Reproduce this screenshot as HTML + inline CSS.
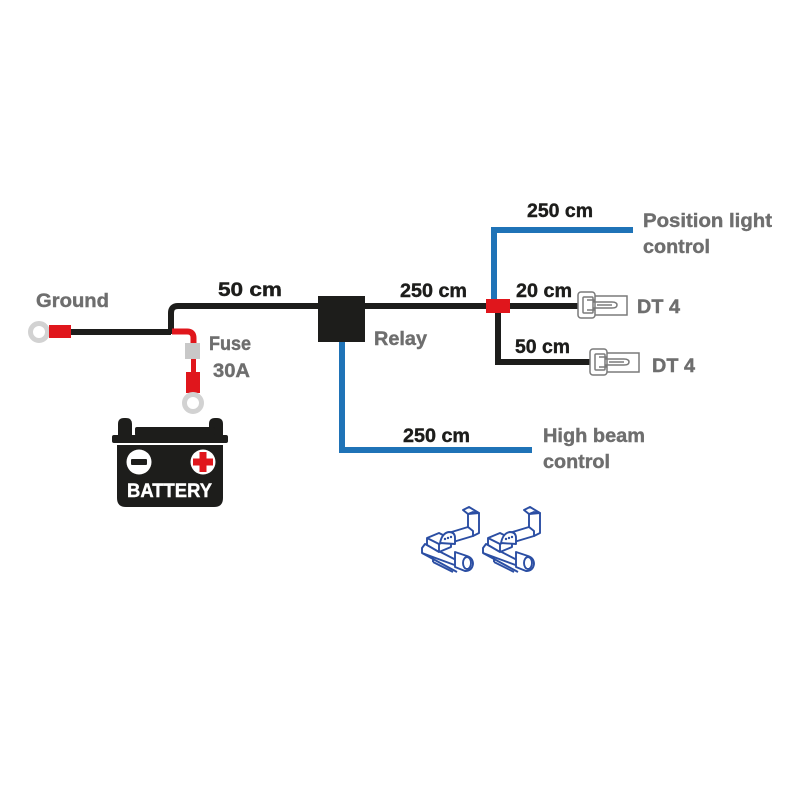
<!DOCTYPE html>
<html><head><meta charset="utf-8"><style>
html,body{margin:0;padding:0;background:#fff;}
svg{display:block;}
text{font-family:"Liberation Sans",sans-serif;font-weight:bold;font-size:19px;stroke-width:0.4;}
.g{fill:#6e6e6e;stroke:#6e6e6e;}
.k{fill:#1d1d1b;stroke:#1d1d1b;}
</style></head><body>
<svg width="800" height="800" viewBox="0 0 800 800" xmlns="http://www.w3.org/2000/svg">
<rect width="800" height="800" fill="#fff"/>

<!-- blue wires -->
<path d="M494,302 V230 H633" fill="none" stroke="#1f73b7" stroke-width="6"/>
<path d="M342,340 V450 H532" fill="none" stroke="#1f73b7" stroke-width="6"/>

<!-- black wires -->
<path d="M71,332 H171" fill="none" stroke="#1d1d1b" stroke-width="6"/>
<path d="M171,334 V313 Q171,306 178,306 H584" fill="none" stroke="#1d1d1b" stroke-width="6"/>
<path d="M498,310 V362 H596" fill="none" stroke="#1d1d1b" stroke-width="6"/>

<!-- red wire to fuse -->
<path d="M172,331.5 H187 Q193.5,331.5 193.5,338 V346" fill="none" stroke="#e0161c" stroke-width="6"/>
<line x1="193.5" y1="358" x2="193.5" y2="374" stroke="#e0161c" stroke-width="5"/>
<rect x="185" y="343" width="15" height="16" fill="#c8c8c8"/>
<rect x="186" y="372" width="14" height="21" fill="#e0161c"/>

<!-- rings -->
<circle cx="39" cy="332" r="8.5" fill="#fff" stroke="#d2d2d2" stroke-width="5"/>
<rect x="49" y="325" width="22" height="13" fill="#e0161c"/>
<circle cx="193" cy="403" r="8.5" fill="#fff" stroke="#d2d2d2" stroke-width="5"/>

<!-- relay -->
<rect x="318" y="296" width="47" height="46" fill="#1d1d1b"/>
<!-- red junction -->
<rect x="486" y="299" width="24" height="14" fill="#e0161c"/>

<!-- battery -->
<path d="M118,435 V424 Q118,418 124,418 H126 Q132,418 132,424 V435 Z" fill="#1d1d1b"/>
<path d="M209,435 V424 Q209,418 215,418 H217 Q223,418 223,424 V435 Z" fill="#1d1d1b"/>
<rect x="135" y="427" width="80" height="9" rx="2" fill="#1d1d1b"/>
<rect x="112" y="435" width="116" height="8" rx="2" fill="#1d1d1b"/>
<path d="M117,445 H223 V498 Q223,507 214,507 H126 Q117,507 117,498 Z" fill="#1d1d1b"/>
<circle cx="139" cy="462" r="12.5" fill="#fff"/>
<rect x="131" y="459" width="16" height="6" rx="1" fill="#1d1d1b"/>
<circle cx="203" cy="462" r="12.5" fill="#fff"/>
<rect x="199.5" y="452" width="7" height="20" fill="#e0161c"/>
<rect x="193" y="458.5" width="20" height="7" fill="#e0161c"/>
<text x="127" y="497" fill="#fff" stroke="#fff" font-size="20" textLength="85" lengthAdjust="spacingAndGlyphs">BATTERY</text>

<!-- DT connectors -->
<g fill="#fff" stroke="#7a7a7a" stroke-width="1.5">
  <rect x="589" y="296" width="38" height="19"/>
  <rect x="578" y="292" width="17" height="26" rx="3"/>
  <rect x="583" y="297" width="10" height="16" rx="1"/>
  <path d="M587,300 H594 V302 H612 Q617,302 617,305 Q617,308 612,308 H594 V310 H587" fill="none"/>
  <line x1="597" y1="305" x2="612" y2="305"/>
</g>
<g fill="#fff" stroke="#7a7a7a" stroke-width="1.5" transform="translate(12,57)">
  <rect x="589" y="296" width="38" height="19"/>
  <rect x="578" y="292" width="17" height="26" rx="3"/>
  <rect x="583" y="297" width="10" height="16" rx="1"/>
  <path d="M587,300 H594 V302 H612 Q617,302 617,305 Q617,308 612,308 H594 V310 H587" fill="none"/>
  <line x1="597" y1="305" x2="612" y2="305"/>
</g>

<!-- clips -->
<defs>
<g id="clip" fill="#fff" stroke="#2b4ea3" stroke-width="1.9" stroke-linejoin="round">
  <polygon points="48,10 54,7 64,13 64,33 58,36 53,31 53,14"/>
  <polygon points="53,14 58,12 64,13"/>
  <polygon points="30,34 53,27 58,31 58,36 38,42"/>
  <polygon points="7,48 10,44 45,62 45,67 7,53"/>
  <line x1="7" y1="53" x2="42" y2="72"/>
  <polygon points="12,38 24,33 36,39 36,47 24,52 12,45"/>
  <line x1="12" y1="38" x2="24" y2="44"/>
  <line x1="24" y1="44" x2="36" y2="39"/>
  <line x1="24" y1="44" x2="24" y2="52"/>
  <path d="M25,43 Q27,33 34,32 Q40,32 40,38 V44 Z"/>
  <circle cx="30" cy="39" r="1.2" fill="#2b4ea3" stroke="none"/>
  <circle cx="33" cy="38" r="1.2" fill="#2b4ea3" stroke="none"/>
  <circle cx="36" cy="37" r="1.2" fill="#2b4ea3" stroke="none"/>
  <path d="M40,52 L52,56 Q58,58 58,64 Q57,71 50,71 L40,67 Z"/>
  <ellipse cx="52" cy="63" rx="4" ry="6"/>
  <line x1="18" y1="57" x2="18" y2="62"/>
  <line x1="18" y1="62" x2="38" y2="72"/>
</g>
</defs>
<use href="#clip" x="415" y="500"/>
<use href="#clip" x="476" y="500"/>

<!-- labels -->
<text class="g" x="36" y="307" textLength="73" lengthAdjust="spacingAndGlyphs">Ground</text>
<text class="k" x="218" y="296" textLength="64" lengthAdjust="spacingAndGlyphs">50 cm</text>
<text class="g" x="209" y="350" textLength="42" lengthAdjust="spacingAndGlyphs">Fuse</text>
<text class="g" x="213" y="377" textLength="37" lengthAdjust="spacingAndGlyphs">30A</text>
<text class="g" x="374" y="345" textLength="53" lengthAdjust="spacingAndGlyphs">Relay</text>
<text class="k" x="400" y="297" textLength="67" lengthAdjust="spacingAndGlyphs">250 cm</text>
<text class="k" x="403" y="442" textLength="67" lengthAdjust="spacingAndGlyphs">250 cm</text>
<text class="g" x="543" y="442" textLength="102" lengthAdjust="spacingAndGlyphs">High beam</text>
<text class="g" x="543" y="468" textLength="67" lengthAdjust="spacingAndGlyphs">control</text>
<text class="k" x="527" y="217" textLength="66" lengthAdjust="spacingAndGlyphs">250 cm</text>
<text class="g" x="643" y="227" textLength="129" lengthAdjust="spacingAndGlyphs">Position light</text>
<text class="g" x="643" y="253" textLength="67" lengthAdjust="spacingAndGlyphs">control</text>
<text class="k" x="516" y="297" textLength="56" lengthAdjust="spacingAndGlyphs">20 cm</text>
<text class="k" x="515" y="353" textLength="55" lengthAdjust="spacingAndGlyphs">50 cm</text>
<text class="g" x="637" y="313" textLength="43" lengthAdjust="spacingAndGlyphs">DT 4</text>
<text class="g" x="652" y="372" textLength="43" lengthAdjust="spacingAndGlyphs">DT 4</text>
</svg>
</body></html>
